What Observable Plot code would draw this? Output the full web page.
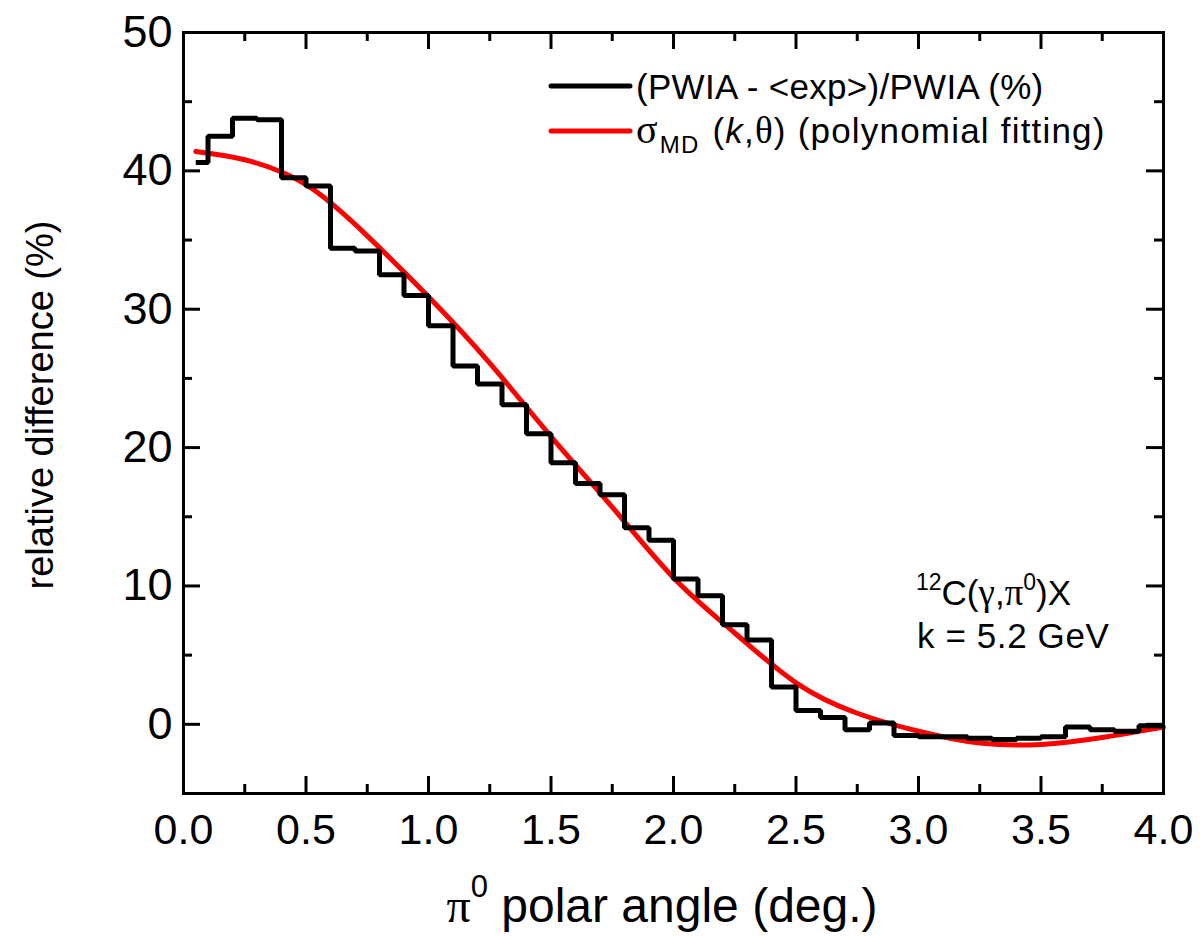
<!DOCTYPE html>
<html><head><meta charset="utf-8">
<script src="https://cdn.jsdelivr.net/npm/d3@7"></script>
<script src="https://cdn.jsdelivr.net/npm/@observablehq/plot@0.6"></script>
<style>html,body{margin:0;padding:0;background:#fff}</style>
</head><body><div id="chart"></div>
<script>
// ---- data ----
// lower edges of the histogram bins (deg.)
const binLowerEdges = [0.05,0.1,0.2,0.3,0.4,0.5,0.6,0.7,0.8,0.9,1.0,1.1,1.2,1.3,1.4,1.5,1.6,1.7,1.8,1.9,2.0,2.1,2.2,2.3,2.4,2.5,2.6,2.7,2.8,2.9,3.0,3.1,3.2,3.3,3.4,3.5,3.6,3.7,3.8,3.9];
const lastUpperEdge = 4.0;
// (PWIA - <exp>)/PWIA (%)
const relDiff = [40.6,42.5,43.8,43.7,39.5,38.9,34.4,34.2,32.5,31.0,28.8,25.9,24.6,23.1,21.0,18.9,17.4,16.6,14.2,13.3,10.5,9.3,7.2,6.1,2.7,1.0,0.5,-0.4,0.1,-0.8,-0.9,-0.9,-1.0,-1.1,-1.0,-0.9,-0.2,-0.4,-0.5,-0.1];
// polynomial fit sigma_MD(k, theta)
const fitAngle = [0.05,0.25,0.5,0.75,1.0,1.25,1.5,1.75,2.0,2.25,2.5,2.75,3.0,3.25,3.5,3.75,4.0];
const fitValue = [41.4,40.8,39.0,35.3,30.9,26.1,20.8,15.7,10.6,6.6,3.0,0.8,-0.5,-1.35,-1.45,-0.95,-0.2];
// ticks
const xMajorTicks = [0,0.5,1,1.5,2,2.5,3,3.5,4];
const xMinorTicks = [0.25,0.75,1.25,1.75,2.25,2.75,3.25,3.75];
const yMajorTicks = [0,10,20,30,40,50];
const yMinorTicks = [5,15,25,35,45];

// ---- build tables ----
const stepData = binLowerEdges.map((x,i)=>({x, y: relDiff[i]}));
stepData.push({x: lastUpperEdge, y: relDiff[relDiff.length-1]});
const fitData = fitAngle.map((x,i)=>({x, y: fitValue[i]}));

const W = 1200, H = 936, mL = 183, mR = 37, mT = 32, mB = 143;
const plotW = W - mL - mR, plotH = H - mT - mB;
const majLen = 17, minLen = 9;

const plot = Plot.plot({
  width: W, height: H,
  marginLeft: mL, marginRight: mR, marginTop: mT, marginBottom: mB,
  style: {fontFamily: "'Liberation Sans', Arial, sans-serif", color: "black", background: "white"},
  x: {domain: [0, 4], label: null},
  y: {domain: [-5, 50], label: null},
  marks: [
    Plot.line(fitData, {x: "x", y: "y", curve: "natural", stroke: "#ff0000", strokeWidth: 5}),
    Plot.line(stepData, {x: "x", y: "y", curve: "step-after", stroke: "black", strokeWidth: 5, strokeLinejoin: "miter", strokeLinecap: "butt"}),
    // inward ticks
    Plot.tickX(xMajorTicks, {x: d=>d, insetTop: plotH - majLen, stroke: "black", strokeWidth: 3}),
    Plot.tickX(xMinorTicks, {x: d=>d, insetTop: plotH - minLen, stroke: "black", strokeWidth: 3}),
    Plot.tickX(xMajorTicks, {x: d=>d, insetBottom: plotH - majLen, stroke: "black", strokeWidth: 3}),
    Plot.tickX(xMinorTicks, {x: d=>d, insetBottom: plotH - minLen, stroke: "black", strokeWidth: 3}),
    Plot.tickY(yMajorTicks, {y: d=>d, insetRight: plotW - majLen, stroke: "black", strokeWidth: 3}),
    Plot.tickY(yMinorTicks, {y: d=>d, insetRight: plotW - minLen, stroke: "black", strokeWidth: 3}),
    Plot.tickY(yMajorTicks, {y: d=>d, insetLeft: plotW - majLen, stroke: "black", strokeWidth: 3}),
    Plot.tickY(yMinorTicks, {y: d=>d, insetLeft: plotW - minLen, stroke: "black", strokeWidth: 3}),
    Plot.frame({stroke: "black", strokeWidth: 3}),
    Plot.axisX(xMajorTicks, {tickSize: 0, tickPadding: 20, tickFormat: d3.format(".1f"), fontSize: 43, label: null}),
    Plot.axisY(yMajorTicks, {tickSize: 0, tickPadding: 11, tickFormat: d3.format("d"), fontSize: 45, label: null})
  ]
});
document.getElementById("chart").appendChild(plot);

// ---- titles, legend and annotation (rich text) ----
const svg = d3.select(plot);
const sans = "'Liberation Sans', Arial, sans-serif";
const serif = "'Liberation Serif', 'DejaVu Serif', serif";
function rich(g, x, y, size, parts, anchor) {
  const t = g.append("text").attr("x", x).attr("y", y)
    .attr("font-family", sans).attr("font-size", size).attr("fill", "black")
    .attr("text-anchor", anchor || "start");
  for (const p of parts) {
    const s = t.append("tspan").text(p.t);
    if (p.font) s.attr("font-family", p.font);
    if (p.size) s.attr("font-size", p.size);
    if (p.italic) s.attr("font-style", "italic");
    if (p.dy) s.attr("dy", p.dy);
    if (p.dx) s.attr("dx", p.dx);
  }
  return t;
}
const g = svg.append("g");
// x title
rich(g, 662, 922, 48, [
  {t: "π", font: serif},
  {t: "0", size: 31, dy: -25},
  {t: " polar angle (deg.)", dy: 25}
], "middle");
// y title
rich(g, 0, 0, 38, [{t: "relative difference (%)"}], "middle")
  .attr("transform", "translate(53,405) rotate(-90)");
// legend
g.append("line").attr("x1", 551).attr("x2", 630).attr("y1", 86).attr("y2", 86)
  .attr("stroke", "black").attr("stroke-width", 5).attr("stroke-linecap", "round");
g.append("line").attr("x1", 551).attr("x2", 630).attr("y1", 131).attr("y2", 131)
  .attr("stroke", "#ff0000").attr("stroke-width", 5).attr("stroke-linecap", "round");
rich(g, 636, 99, 35, [{t: "(PWIA - <exp>)/PWIA (%)"}]).attr("letter-spacing", 0.3);
rich(g, 636, 143, 35, [
  {t: "σ", font: serif, size: 40},
  {t: "MD", size: 24, dy: 10, dx: 1},
  {t: " (", dy: -10, dx: 2},
  {t: "k", italic: true},
  {t: ","},
  {t: "θ", font: serif, size: 37},
  {t: ") (polynomial fitting)"}
]).attr("letter-spacing", 1.2);
// annotation
rich(g, 916, 605, 35, [
  {t: "12", size: 23, dy: -15},
  {t: "C(", dy: 15},
  {t: "γ", font: serif, size: 37},
  {t: ","},
  {t: "π", font: serif, size: 37},
  {t: "0", size: 23, dy: -15},
  {t: ")X", dy: 15}
]);
rich(g, 917, 648, 35, [{t: "k = 5.2 GeV"}]).attr("letter-spacing", 0.6);
</script>
</body></html>
